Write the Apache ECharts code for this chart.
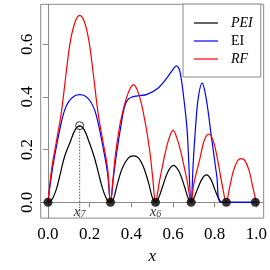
<!DOCTYPE html>
<html><head><meta charset="utf-8">
<script src="https://cdn.jsdelivr.net/npm/echarts@6/dist/echarts.min.js"></script>
<style>html,body{margin:0;padding:0;background:#fff}#c{width:270px;height:270px}</style>
</head><body><div id="c"></div>
<script>
const peiX = [0, 0.02, 0.041, 0.06, 0.079, 0.108, 0.13, 0.152, 0.174, 0.196, 0.222, 0.242, 0.262, 0.282, 0.3, 0.315, 0.333, 0.357, 0.385, 0.41, 0.435, 0.46, 0.484, 0.5, 0.516, 0.53, 0.55, 0.575, 0.602, 0.63, 0.655, 0.673, 0.687, 0.70, 0.72, 0.74, 0.76, 0.78, 0.80, 0.82, 0.835, 0.856, 0.93, 1.0];
const peiY = [0, 0.012, 0.052, 0.112, 0.172, 0.232, 0.275, 0.29, 0.275, 0.232, 0.172, 0.112, 0.052, 0.012, 0, 0.015, 0.07, 0.13, 0.168, 0.176, 0.168, 0.13, 0.07, 0.02, 0, 0.015, 0.06, 0.115, 0.14, 0.115, 0.06, 0.015, 0, 0.015, 0.055, 0.09, 0.104, 0.09, 0.05, 0.012, 0, 0, 0, 0];
const eiX = [0, 0.018, 0.04, 0.063, 0.08, 0.1, 0.125, 0.152, 0.18, 0.204, 0.224, 0.241, 0.264, 0.286, 0.3, 0.315, 0.33, 0.354, 0.365, 0.38, 0.4, 0.43, 0.476, 0.524, 0.571, 0.6, 0.616, 0.632, 0.651, 0.668, 0.687, 0.697, 0.705, 0.72, 0.74, 0.76, 0.784, 0.81, 0.83, 0.9, 1.0];
const eiY = [0, 0.11, 0.21, 0.30, 0.35, 0.383, 0.403, 0.409, 0.403, 0.383, 0.35, 0.30, 0.21, 0.11, 0, 0.1, 0.19, 0.31, 0.355, 0.387, 0.399, 0.404, 0.41, 0.431, 0.473, 0.505, 0.518, 0.50, 0.40, 0.27, 0, 0.15, 0.25, 0.39, 0.453, 0.39, 0.25, 0.1, 0, 0, 0];
const rfX = [0, 0.018, 0.04, 0.063, 0.087, 0.107, 0.13, 0.152, 0.175, 0.197, 0.217, 0.241, 0.264, 0.286, 0.3, 0.312, 0.325, 0.349, 0.381, 0.41, 0.437, 0.465, 0.489, 0.503, 0.516, 0.535, 0.55, 0.563, 0.58, 0.6, 0.62, 0.638, 0.652, 0.668, 0.687, 0.70, 0.729, 0.75, 0.771, 0.792, 0.813, 0.835, 0.856, 0.87, 0.89, 0.91, 0.927, 0.945, 0.965, 0.985, 1.0];
const rfY = [0, 0.13, 0.23, 0.335, 0.49, 0.61, 0.685, 0.71, 0.685, 0.61, 0.49, 0.335, 0.23, 0.13, 0, 0.09, 0.19, 0.31, 0.407, 0.447, 0.407, 0.31, 0.19, 0.09, 0, 0.08, 0.14, 0.19, 0.24, 0.274, 0.24, 0.19, 0.14, 0.08, 0, 0.07, 0.166, 0.235, 0.259, 0.235, 0.166, 0.07, 0, 0.05, 0.12, 0.158, 0.166, 0.158, 0.12, 0.05, 0];
const sampleX = [0, 0.3, 0.516, 0.687, 0.856, 0.995];
const sampleY = [0, 0, 0, 0, 0, 0];
const bestX = [0.152];
const bestY = [0.291];
const annotX = [0.152, 0.516];
const annotY = [-0.036, -0.036];
const annotSub = ['7', '6'];
const xTicks = [0, 0.2, 0.4, 0.6, 0.8, 1.0];
const yTicks = [0, 0.2, 0.4, 0.6];
const names = ['PEI', 'EI', 'RF'];

const FONT = 'Liberation Serif';
const zip = (a, b) => a.map((v, i) => [v, b[i]]);
const gray = '#8a8a8a';
const chart = echarts.init(document.getElementById('c'), null, {renderer: 'canvas'});
const lineSeries = (name, xs, ys, color) => ({
  name, type: 'line', data: zip(xs, ys), smooth: 0.35, showSymbol: false, symbol: 'none',
  lineStyle: {color, width: 1.2}, itemStyle: {color}, z: 2, animation: false
});
chart.setOption({
  animation: false,
  grid: {left: 40.7, right: 5, top: 4.3, bottom: 40.7, show: true, borderColor: gray, borderWidth: 1},
  xAxis: {
    type: 'value', min: -0.035, max: 1.035,
    name: 'x', nameLocation: 'middle', nameGap: 27,
    nameTextStyle: {fontFamily: FONT, fontStyle: 'italic', fontSize: 17, color: '#000'},
    splitLine: {show: false},
    axisLine: {show: true, lineStyle: {color: gray}},
    axisTick: {show: true, length: 5, lineStyle: {color: gray}, customValues: xTicks},
    axisLabel: {customValues: xTicks, formatter: v => v.toFixed(1), fontFamily: FONT, fontSize: 17, color: '#000', margin: 8}
  },
  yAxis: {
    type: 'value', min: -0.06, max: 0.752,
    splitLine: {show: false},
    axisLine: {show: true, lineStyle: {color: gray}},
    axisTick: {show: true, length: 5, lineStyle: {color: gray}, customValues: yTicks},
    axisLabel: {customValues: yTicks, formatter: v => v.toFixed(1), rotate: 90, fontFamily: FONT, fontSize: 17, color: '#000', margin: 5}
  },
  legend: {
    data: names, orient: 'vertical', left: 183, top: 4, width: 82,
    padding: [12, 8, 11, 11], itemGap: 4, itemWidth: 24, itemHeight: 14,
    backgroundColor: '#fff', borderColor: gray, borderWidth: 1, borderRadius: 0,
    icon: 'path://M0,7 L24,7 L24,8.2 L0,8.2 Z',
    formatter: n => n === 'EI' ? '{r|EI}' : '{i|' + n + '}',
    textStyle: {padding: [0, 0, 0, 8], rich: {
      i: {fontFamily: FONT, fontStyle: 'italic', fontSize: 14, color: '#000', lineHeight: 15},
      r: {fontFamily: FONT, fontSize: 14, color: '#000', lineHeight: 15}
    }}
  },
  series: [
    lineSeries('PEI', peiX, peiY, '#000000'),
    lineSeries('EI', eiX, eiY, '#0000ff'),
    lineSeries('RF', rfX, rfY, '#ff0000'),
    {type: 'line', data: [[bestX[0], bestY[0]], [bestX[0], -0.06]], symbol: 'none', silent: true,
     lineStyle: {color: '#555', width: 1, type: [1.5, 1.5]}, z: 1},
    {type: 'scatter', data: zip(sampleX, sampleY), symbol: 'circle', symbolSize: 9,
     itemStyle: {color: '#000'}, z: 5},
    {type: 'scatter', data: zip(bestX, bestY), symbol: 'circle', symbolSize: 8,
     itemStyle: {color: 'rgba(255,255,255,0)', borderColor: '#000', borderWidth: 1}, z: 5},
    {type: 'scatter', data: zip(annotX, annotY), symbolSize: 0, z: 6,
     label: {show: true, position: 'inside', formatter: p => '{x|x}{s|' + annotSub[p.dataIndex] + '}',
       rich: {x: {fontFamily: FONT, fontStyle: 'italic', fontSize: 15, color: '#000'},
              s: {fontFamily: FONT, fontStyle: 'italic', fontSize: 10, color: '#000', verticalAlign: 'bottom', padding: [6, 0, 0, 0]}}}}
  ]
});
</script></body></html>
